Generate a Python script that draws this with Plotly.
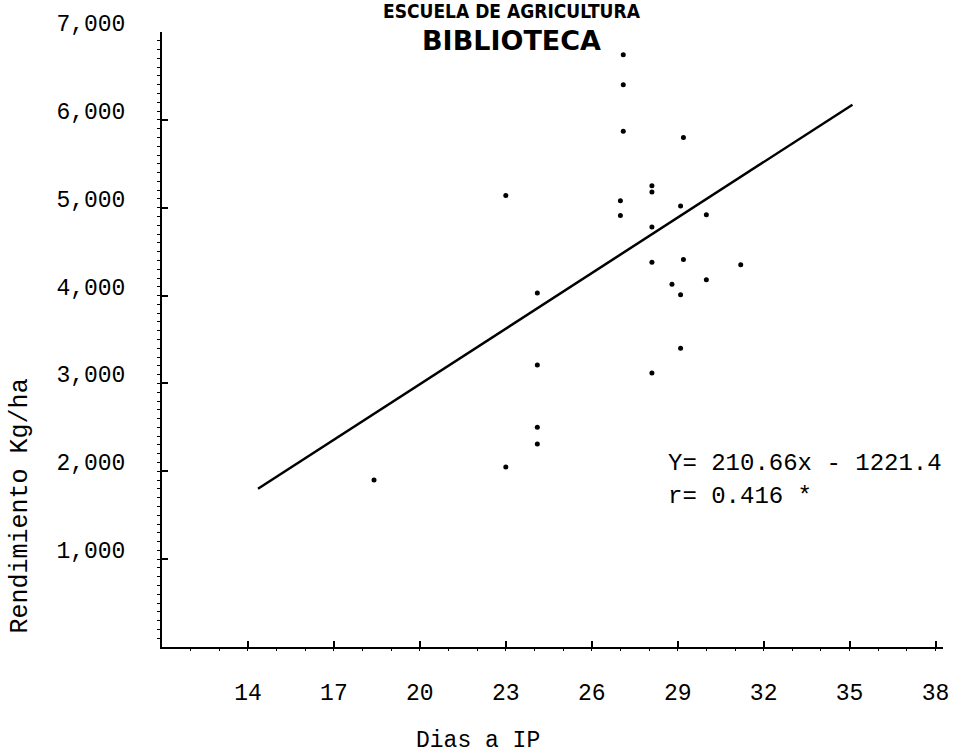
import plotly.graph_objects as go

# Observed yield per plot against days to panicle initiation
dias_ip = [27.1, 27.1, 27.1, 29.2, 28.1, 28.1, 23.0, 27.0, 29.1, 27.0,
           30.0, 28.1, 28.1, 29.2, 31.2, 28.8, 30.0, 29.1, 24.1, 29.1,
           24.1, 28.1, 24.1, 24.1, 23.0, 18.4]
rendimiento = [6740, 6400, 5870, 5800, 5250, 5180, 5140, 5080, 5020, 4910,
               4920, 4780, 4380, 4410, 4350, 4130, 4180, 4010, 4030, 3400,
               3210, 3120, 2500, 2310, 2050, 1900]

# Fitted regression Y = a*x + b, drawn over the span of the fit
pendiente = 210.66
intercepto = -1221.4
r_valor = "0.416"
recta_x = [14.35, 35.1]
recta_y = [pendiente * v + intercepto for v in recta_x]

x_ticks = [14, 17, 20, 23, 26, 29, 32, 35, 38]
y_ticks = [1000, 2000, 3000, 4000, 5000, 6000, 7000]
y_ticktext = ["1,000", "2,000", "3,000", "4,000", "5,000", "6,000", "7,000"]

MONO = "Liberation Mono, Courier New, DejaVu Sans Mono, monospace"

fig = go.Figure()
fig.add_trace(go.Scatter(
    x=recta_x, y=recta_y, mode="lines",
    line=dict(color="black", width=2.5), hoverinfo="skip", showlegend=False))
fig.add_trace(go.Scatter(
    x=dias_ip, y=rendimiento, mode="markers",
    marker=dict(color="black", size=5, symbol="circle"), showlegend=False))

fig.update_layout(
    width=961, height=756,
    margin=dict(l=162, r=14, t=29, b=109),
    paper_bgcolor="white", plot_bgcolor="white",
    font=dict(family=MONO, size=23, color="black"),
    showlegend=False,
)
fig.update_xaxes(
    range=[11, 38.26], showgrid=False, zeroline=False,
    showline=True, linecolor="black", linewidth=2,
    tickmode="array", tickvals=x_ticks, ticktext=[str(t) for t in x_ticks],
    ticks="inside", ticklen=6, tickwidth=2, tickcolor="black",
    ticklabelstandoff=23,
    minor=dict(dtick=1, ticks="outside", ticklen=2, tickwidth=1, tickcolor="black"),
)
fig.update_yaxes(
    range=[0, 7000], showgrid=False, zeroline=False,
    showline=True, linecolor="black", linewidth=2,
    tickmode="array", tickvals=y_ticks, ticktext=y_ticktext,
    ticks="inside", ticklen=6, tickwidth=2, tickcolor="black",
    ticklabelstandoff=30, ticklabelshift=-9,
    minor=dict(dtick=100, ticks="outside", ticklen=3, tickwidth=1, tickcolor="black"),
)

def px_x(p):
    return (p - 162) / 785.0

def px_y(p):
    return (647 - p) / 618.0

notes = [
    dict(text="ESCUELA DE AGRICULTURA", x=px_x(514), y=px_y(8),
         font=dict(family="Liberation Sans Narrow, DejaVu Sans Condensed, Arial Narrow, sans-serif",
                   size=19, color="black", weight="bold"),
         xanchor="center", yanchor="middle"),
    dict(text="BIBLIOTECA", x=px_x(513), y=px_y(38),
         font=dict(family="DejaVu Sans, sans-serif", size=27, color="black", weight="bold"),
         xanchor="center", yanchor="middle"),
    dict(text=f"Y= {pendiente}x - {abs(intercepto)}", x=px_x(669), y=px_y(463),
         font=dict(family=MONO, size=24, color="black"),
         xanchor="left", yanchor="middle"),
    dict(text=f"r= {r_valor} *", x=px_x(669), y=px_y(496),
         font=dict(family=MONO, size=24, color="black"),
         xanchor="left", yanchor="middle"),
    dict(text="Dias a IP", x=px_x(480), y=px_y(741),
         font=dict(family=MONO, size=23, color="black"),
         xanchor="center", yanchor="middle"),
    dict(text="Rendimiento Kg/ha", x=px_x(20), y=px_y(505), textangle=-90,
         font=dict(family=MONO, size=25, color="black"),
         xanchor="center", yanchor="middle"),
]
for n in notes:
    fig.add_annotation(xref="paper", yref="paper", showarrow=False, **n)

fig.write_html("out.html")
